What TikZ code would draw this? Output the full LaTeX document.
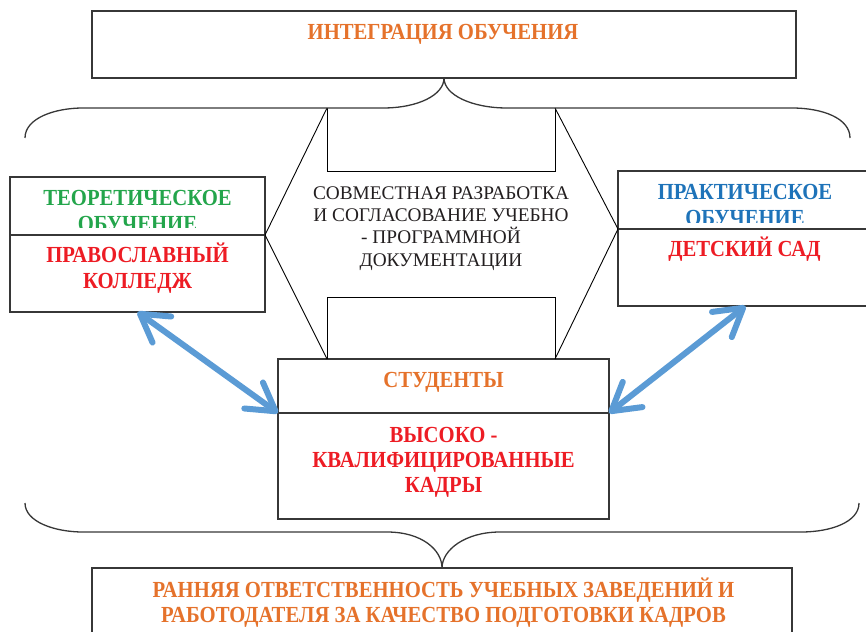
\documentclass[tikz,border=0pt]{standalone}
\usepackage{fontspec}
\setmainfont{Liberation Serif}
\newfontfamily\bcond{Liberation Serif}[FakeStretch=0.9]
\usetikzlibrary{arrows.meta}
\definecolor{cOrange}{RGB}{229,114,43}
\definecolor{cRed}{RGB}{237,28,36}
\definecolor{cGreen}{RGB}{35,165,75}
\definecolor{cBlue}{RGB}{30,115,185}
\definecolor{cArrow}{RGB}{91,155,213}
\definecolor{cBorder}{RGB}{55,55,55}
\definecolor{cText}{RGB}{35,31,32}
\begin{document}
\begin{tikzpicture}[x=1pt,y=-1pt,
  box/.style={draw=cBorder, line width=1.5pt, rectangle, inner sep=0pt, outer sep=0pt},
  boldtxt/.style={font=\bcond\bfseries\fontsize{23}{26}\selectfont, inner sep=0pt, outer sep=0pt, anchor=base},
  plaintxt/.style={font=\fontsize{19.3}{22}\selectfont, text=cText, inner sep=0pt, outer sep=0pt, anchor=base},
  hexline/.style={draw=black, line width=0.9pt},
  bracel/.style={draw=cBorder, line width=1.3pt},
  biarrow/.style={draw=cArrow, line width=6pt, {Straight Barb[length=27pt,width=32pt,round]}-{Straight Barb[length=27pt,width=32pt,round]}},
]
\useasboundingbox (0,0) rectangle (866,631);
\clip (0,0) rectangle (866,631);

% boxes
\node[box, minimum width=704pt, minimum height=67pt] (top) at (444,44.5) {};
\node[box, minimum width=255pt, minimum height=58pt] (lt) at (137.5,206) {};
\node[box, minimum width=255pt, minimum height=77pt] (lb) at (137.5,273.5) {};
\node[box, minimum width=255pt, minimum height=58pt] (rt) at (745.5,200) {};
\node[box, minimum width=255pt, minimum height=77pt] (rb) at (745.5,267.5) {};
\node[box, minimum width=331pt, minimum height=54pt] (st) at (443.5,386) {};
\node[box, minimum width=331pt, minimum height=106pt] (sb) at (443.5,466) {};
\node[box, minimum width=700pt, minimum height=92pt] (bot) at (442,614) {};

% hexagon with notches
\coordinate (hA) at (327,108);
\coordinate (hD) at (555,108);
\draw[hexline] (hA) -- (lb.north east) -- (hA |- st.north);
\draw[hexline] (hD) -- (rt.south west) -- (hD |- st.north);
\draw[hexline] (hA) -- (327,171) -- (555,171) -- (hD);
\draw[hexline] (hA |- st.north) -- (327,297) -- (555,297) -- (hD |- st.north);

% braces
\draw[bracel] (25,138) .. controls (25,118) and (55,108) .. (83,108) -- (383,108)
  .. controls (418,108) and ([yshift=-17pt]top.south) .. (top.south)
  .. controls ([yshift=-17pt]top.south) and (472,108) .. (507,108) -- (792,108)
  .. controls (822,108) and (850,118) .. (850,138);
\draw[bracel] (25,503) .. controls (25,522) and (55,532) .. (83,532) -- (387,532)
  .. controls (422,532) and ([yshift=18pt]bot.north) .. (bot.north)
  .. controls ([yshift=18pt]bot.north) and (465,532) .. (500,532) -- (801,532)
  .. controls (831,532) and (859,522) .. (859,503);

% arrows
\draw[biarrow] (lb.south) -- (sb.north west);
\draw[biarrow] (rb.south) -- (sb.north east);

% texts
\node[boldtxt, text=cOrange] (tTitle) at (443,40) {ИНТЕГРАЦИЯ ОБУЧЕНИЯ};

\node[boldtxt, text=cGreen] (tTeo1) at (137.5,205) {ТЕОРЕТИЧЕСКОЕ};
\begin{scope}
\clip (lt.north west) rectangle ([yshift=8pt]lt.south east);
\node[boldtxt, text=cGreen] (tTeo2) at (137.5,231) {ОБУЧЕНИЕ};
\end{scope}
\node[boldtxt, text=cRed] (tPrav1) at (137.5,262) {ПРАВОСЛАВНЫЙ};
\node[boldtxt, text=cRed] (tPrav2) at (137.5,288) {КОЛЛЕДЖ};

\node[boldtxt, text=cBlue] (tPr1) at (745,199) {ПРАКТИЧЕСКОЕ};
\begin{scope}
\clip (rt.north west) rectangle ([yshift=7pt]rt.south east);
\node[boldtxt, text=cBlue] (tPr2) at (745,225) {ОБУЧЕНИЕ};
\end{scope}
\node[boldtxt, text=cRed] (tDs) at (744.5,256) {ДЕТСКИЙ САД};

\node[plaintxt] (tC1) at (441,199) {СОВМЕСТНАЯ РАЗРАБОТКА};
\node[plaintxt] (tC2) at (441,221) {И СОГЛАСОВАНИЕ УЧЕБНО};
\node[plaintxt] (tC3) at (441,243.5) {- ПРОГРАММНОЙ};
\node[plaintxt] (tC4) at (441,266) {ДОКУМЕНТАЦИИ};

\node[boldtxt, text=cOrange] (tSt) at (443.5,387) {СТУДЕНТЫ};
\node[boldtxt, text=cRed] (tV1) at (443.5,442) {ВЫСОКО -};
\node[boldtxt, text=cRed] (tV2) at (443.5,467) {КВАЛИФИЦИРОВАННЫЕ};
\node[boldtxt, text=cRed] (tV3) at (443.5,492) {КАДРЫ};

\node[boldtxt, text=cOrange] (tB1) at (443.5,597) {РАННЯЯ ОТВЕТСТВЕННОСТЬ УЧЕБНЫХ ЗАВЕДЕНИЙ И};
\node[boldtxt, text=cOrange] (tB2) at (443.5,622) {РАБОТОДАТЕЛЯ ЗА КАЧЕСТВО ПОДГОТОВКИ КАДРОВ};
\end{tikzpicture}
\end{document}
